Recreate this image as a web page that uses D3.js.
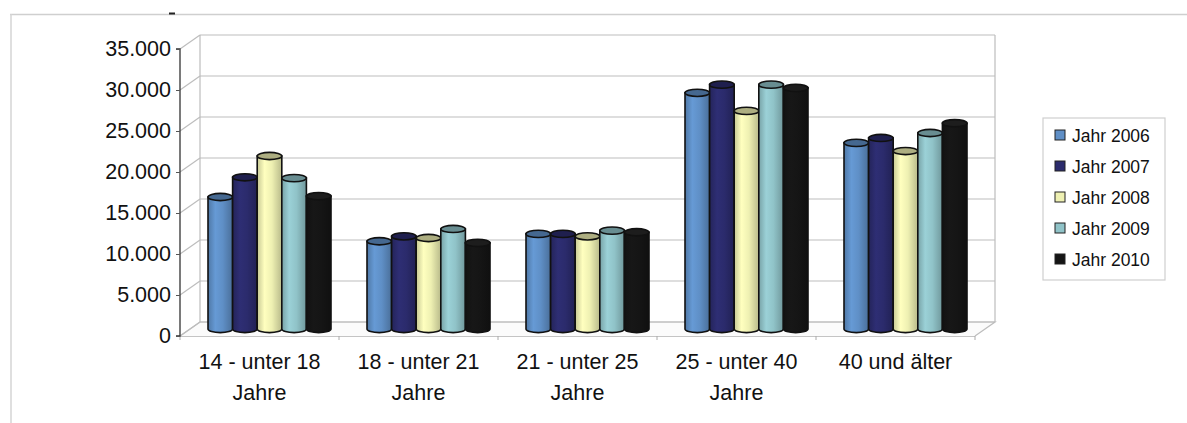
<!DOCTYPE html>
<html>
<head>
<meta charset="utf-8">
<script src="https://cdn.jsdelivr.net/npm/d3@7"></script>
<style>
  html, body { margin: 0; padding: 0; background: #fff; }
  svg { display: block; font-family: "Liberation Sans", Arial, sans-serif; }
</style>
</head>
<body>
<svg id="chart" width="1187" height="423"></svg>
<script>
// Age groups on the x axis
const categories = [
  ["14 - unter 18", "Jahre"],
  ["18 - unter 21", "Jahre"],
  ["21 - unter 25", "Jahre"],
  ["25 - unter 40", "Jahre"],
  ["40 und älter"]
];
// One series per year
const seriesNames = ["Jahr 2006", "Jahr 2007", "Jahr 2008", "Jahr 2009", "Jahr 2010"];
const values2006 = [16100, 10700, 11600, 28800, 22700];
const values2007 = [18500, 11300, 11600, 29800, 23300];
const values2008 = [21100, 11100, 11300, 26600, 21700];
const values2009 = [18400, 12200, 12000, 29800, 23900];
const values2010 = [16200, 10500, 11800, 29400, 25100];
const seriesValues = [values2006, values2007, values2008, values2009, values2010];
const seriesColors = ["#5f8fc6", "#2b2b6c", "#eef0b2", "#90c3c8", "#151515"];
const yTicks = [0, 5000, 10000, 15000, 20000, 25000, 30000, 35000];

const svg = d3.select("#chart");

// German number format: 35.000
const de = d3.formatLocale({ decimal: ",", thousands: ".", grouping: [3], currency: ["", " €"] });
const fmt = de.format(",");

// 3D box geometry: front plane plus a depth offset to the back wall
const depth = { dx: 20, dy: -14 };
const x = d3.scaleBand().domain(d3.range(categories.length)).range([180, 975]);
const y = d3.scaleLinear().domain([0, 35000]).range([336, 49]);
const xs = d3.scaleBand().domain(d3.range(seriesNames.length)).range([18, 141]).padding(0.0);

// Chart area frame
svg.append("line").attr("x1", 10).attr("x2", 1187).attr("y1", 14.5).attr("y2", 14.5)
  .attr("stroke", "#cfcfcf").attr("stroke-width", 1.5);
svg.append("line").attr("x1", 11).attr("x2", 11).attr("y1", 14).attr("y2", 423)
  .attr("stroke", "#d4d4d4").attr("stroke-width", 1.5);
svg.append("line").attr("x1", 169).attr("x2", 175).attr("y1", 13.5).attr("y2", 13.5)
  .attr("stroke", "#222").attr("stroke-width", 2);

const walls = svg.append("g").attr("fill", "none").attr("stroke", "#bdbdbd").attr("stroke-width", 1.2);
const x0 = x.range()[0], x1 = x.range()[1];

// Floor
walls.append("path")
  .attr("d", `M${x0},${y(0)}L${x0 + depth.dx},${y(0) + depth.dy}L${x1 + depth.dx},${y(0) + depth.dy}L${x1},${y(0)}`)
  .attr("fill", "#fbfbfb");

// Back wall gridlines and side-wall diagonals
yTicks.forEach(t => {
  walls.append("line")
    .attr("x1", x0 + depth.dx).attr("x2", x1 + depth.dx)
    .attr("y1", y(t) + depth.dy).attr("y2", y(t) + depth.dy);
  walls.append("line")
    .attr("x1", x0).attr("x2", x0 + depth.dx)
    .attr("y1", y(t)).attr("y2", y(t) + depth.dy);
});
// Back wall edges
walls.append("line").attr("x1", x0 + depth.dx).attr("x2", x0 + depth.dx)
  .attr("y1", y(35000) + depth.dy).attr("y2", y(0) + depth.dy);
walls.append("line").attr("x1", x1 + depth.dx).attr("x2", x1 + depth.dx)
  .attr("y1", y(35000) + depth.dy).attr("y2", y(0) + depth.dy);

// Front floor edge with category ticks
svg.append("line").attr("x1", x0).attr("x2", x1).attr("y1", y(0) + 0.5).attr("y2", y(0) + 0.5)
  .attr("stroke", "#c4c4c4").attr("stroke-width", 1.2);
d3.range(categories.length + 1).forEach(i => {
  const xx = x0 + i * x.bandwidth();
  svg.append("line").attr("x1", xx).attr("x2", xx).attr("y1", y(0)).attr("y2", y(0) + 4)
    .attr("stroke", "#aaa");
});

// Value axis
const yAxis = d3.axisLeft(y).tickValues(yTicks).tickFormat(fmt).tickSize(4).tickPadding(5);
const ya = svg.append("g").attr("transform", `translate(${x0},0)`).call(yAxis);
ya.select(".domain").attr("stroke", "#333").attr("stroke-width", 1.3)
  .attr("d", `M-4,${y(35000)}H0V${y(0)}H-4`);
ya.selectAll(".tick line").attr("stroke", "#555");
ya.selectAll(".tick text").attr("font-size", 21.5).attr("fill", "#111")
  .attr("font-family", "'Liberation Sans', Arial, sans-serif");

// Cylinder shading gradients
const defs = svg.append("defs");
seriesColors.forEach((c, i) => {
  const base = d3.color(c);
  const g = defs.append("linearGradient").attr("id", "cyl" + i)
    .attr("x1", "0%").attr("x2", "100%").attr("y1", "0%").attr("y2", "0%");
  g.append("stop").attr("offset", "0%").attr("stop-color", base.darker(0.5));
  g.append("stop").attr("offset", "30%").attr("stop-color", base.brighter(0.2));
  g.append("stop").attr("offset", "60%").attr("stop-color", base);
  g.append("stop").attr("offset", "100%").attr("stop-color", base.darker(0.7));
});

// Cylindrical columns, placed at mid depth
const mid = { dx: depth.dx / 2, dy: depth.dy / 2 };
const ry = 3.6;
const bars = svg.append("g");
categories.forEach((cat, ci) => {
  seriesValues.forEach((vals, si) => {
    const v = vals[ci];
    const bx = x(ci) + xs(si) + mid.dx;
    const bw = xs.bandwidth();
    const top = y(v) + mid.dy;
    const bottom = y(0) + mid.dy;
    const cx = bx + bw / 2;
    const g = bars.append("g");
    g.append("path")
      .attr("d", `M${bx},${top}V${bottom}A${bw / 2},${ry} 0 0 0 ${bx + bw},${bottom}V${top}Z`)
      .attr("fill", `url(#cyl${si})`).attr("stroke", "#111").attr("stroke-width", 1.6);
    const topColor = d3.color(seriesColors[si]);
    g.append("ellipse")
      .attr("cx", cx).attr("cy", top).attr("rx", bw / 2).attr("ry", ry)
      .attr("fill", si === 4 ? "#1d1d1d" : topColor.darker(0.9))
      .attr("stroke", "#111").attr("stroke-width", 1.6);
  });
});

// Category labels
const xl = svg.append("g").attr("font-size", 21.5).attr("fill", "#111").attr("text-anchor", "middle");
categories.forEach((lines, ci) => {
  const t = xl.append("text").attr("x", x(ci) + x.bandwidth() / 2).attr("y", 369);
  lines.forEach((ln, li) => {
    t.append("tspan").attr("x", x(ci) + x.bandwidth() / 2).attr("dy", li === 0 ? 0 : 31).text(ln);
  });
});

// Legend
const lg = svg.append("g");
lg.append("rect").attr("x", 1043).attr("y", 118).attr("width", 122).attr("height", 162)
  .attr("fill", "#fff").attr("stroke", "#cfcfcf").attr("stroke-width", 1.2);
seriesNames.forEach((name, i) => {
  const cy = 135 + i * 31;
  lg.append("rect").attr("x", 1055).attr("y", cy - 5).attr("width", 10).attr("height", 10)
    .attr("fill", seriesColors[i]).attr("stroke", "#222").attr("stroke-width", 1);
  lg.append("text").attr("x", 1072).attr("y", cy + 6.5).attr("font-size", 17.5).attr("fill", "#111").text(name);
});
</script>
</body>
</html>
